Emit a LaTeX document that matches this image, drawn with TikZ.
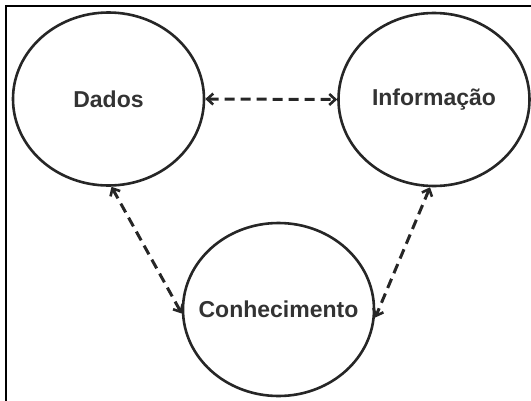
\documentclass[tikz,border=0pt]{standalone}
\usepackage{fontspec}
\setmainfont{Liberation Sans}
\usetikzlibrary{shapes.geometric,arrows.meta}
\begin{document}
\begin{tikzpicture}[x=1pt,y=-1pt,
  concept/.style={draw=black!85,line width=2.6pt,ellipse,minimum width=191pt,minimum height=173pt,inner sep=-60pt,font=\fontsize{23}{26}\selectfont\bfseries,text=black!80},
  link/.style={line width=3pt,black!85,dash pattern=on 10pt off 6pt,{Straight Barb[length=6pt,width=11pt,line width=2.6pt]}-{Straight Barb[length=6pt,width=11pt,line width=2.6pt]}}]
\useasboundingbox (0,0) rectangle (531,400);
\draw[line width=2.6pt] (6,401) -- (6,6) -- (532,6);
\node[concept] (dados) at (108.5,99) {Dados};
\node[concept] (info) at (434,99.5) {Informação};
\node[concept] (conh) at (278.5,309.5) {Conhecimento};
\draw[link] (dados.east) -- (info.west);
\draw[link] ([xshift=3pt]dados.south) -- ([yshift=-4pt]conh.west);
\draw[link] ([xshift=-4pt]info.south) -- ([yshift=-8pt]conh.east);
\end{tikzpicture}
\end{document}
